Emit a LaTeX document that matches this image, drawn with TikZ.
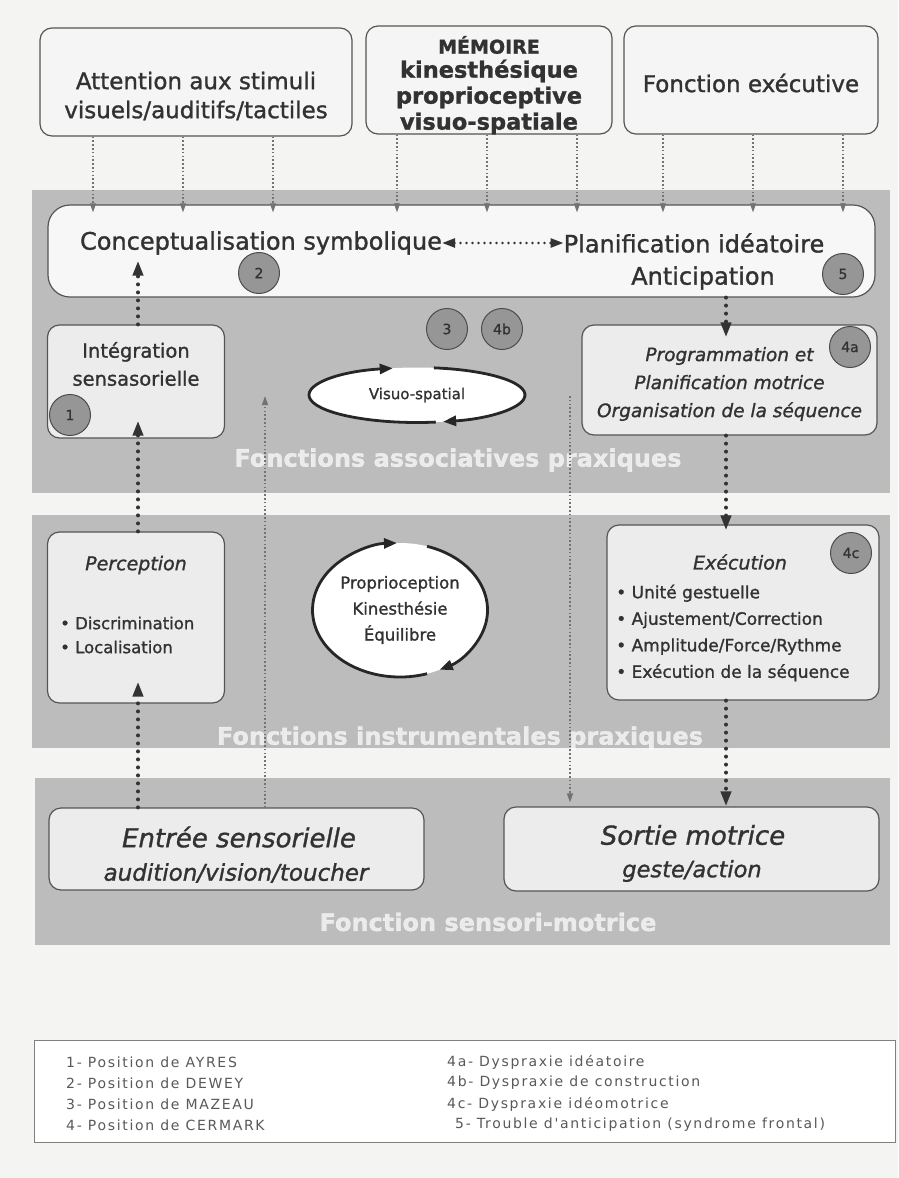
\documentclass[tikz,border=0pt]{standalone}
\usepackage{fontspec}
\setmainfont{DejaVu Sans}[FakeBold=1.2]
\newfontfamily\legfont{DejaVu Sans}[LetterSpace=12]
\usetikzlibrary{arrows.meta,shapes.geometric}
\definecolor{bandgray}{RGB}{188,188,188}
\definecolor{boxfill}{RGB}{236,236,236}
\definecolor{txt}{RGB}{50,50,50}
\definecolor{edge}{RGB}{85,85,85}
\definecolor{bg}{RGB}{244,244,242}
\definecolor{numfill}{RGB}{150,150,150}
\begin{document}
\begin{tikzpicture}[x=1pt,y=-1pt,
 every node/.style={text=txt},
 box/.style={draw=edge, line width=1.2pt, rounded corners=12pt, fill=boxfill, inner sep=0pt},
 topbox/.style={box, fill=black!4},
 lbl/.style={inner sep=0pt, align=center},
 num/.style={circle, draw=black!70, fill=numfill, line width=1pt, minimum size=41pt, inner sep=0pt, font=\fontsize{14}{16}\selectfont},
 lightarr/.style={draw=black!55, line width=1.1pt, dash pattern=on 1.6pt off 2.2pt, -{Triangle[length=9pt,width=6pt]}},
 heavyarr/.style={draw=black!80, line width=4pt, line cap=round, dash pattern=on 0pt off 8pt, -{Triangle[length=15pt,width=10pt]}},
 bidir/.style={draw=black!80, line width=2.6pt, line cap=round, dash pattern=on 0pt off 6pt, {Triangle[length=13pt,width=9pt]}-{Triangle[length=13pt,width=9pt]}},
 cyc/.style={draw=black!85, line width=2.8pt, -{Triangle[length=13pt,width=10pt]}},
 bandlbl/.style={text=white, text opacity=0.7, inner sep=0pt, font=\fontsize{24}{28}\selectfont\bfseries},
 legtxt/.style={anchor=west, inner sep=0pt, text=black!65, font=\legfont\fontsize{14}{16}\selectfont},
]
\useasboundingbox (0,0) rectangle (898,1178);
\fill[bg] (0,0) rectangle (898,1178);
% bands
\fill[bandgray] (32,190) rectangle (890,493);
\fill[bandgray] (32,515) rectangle (890,748);
\fill[bandgray] (35,778) rectangle (890,945);

% top boxes
\node[topbox, minimum width=312pt, minimum height=108pt] (att) at (196,82) {};
\node[lbl, font=\fontsize{23}{29}\selectfont] (attT) at (196,96) {Attention aux stimuli\\visuels/auditifs/tactiles};
\node[topbox, minimum width=246pt, minimum height=108pt] (mem) at (489,80) {};
\node[lbl, font=\fontsize{19}{22}\selectfont\bfseries] (memT) at (489,45) {MÉMOIRE};
\node[lbl, font=\fontsize{22.5}{26}\selectfont\bfseries] (memL) at (489,97) {kinesthésique\\proprioceptive\\visuo-spatiale};
\node[topbox, minimum width=254pt, minimum height=108pt] (exe) at (751,80) {};
\node[lbl, font=\fontsize{23}{26}\selectfont] (exeT) at (751,83) {Fonction exécutive};

% conceptualisation
\node[box, fill=black!3, rounded corners=22pt, minimum width=827pt, minimum height=92pt] (concept) at (461.5,251) {};
\node[lbl, font=\fontsize{24}{28}\selectfont] (cs) at (261,243) {Conceptualisation symbolique};
\node[lbl, font=\fontsize{24}{28}\selectfont] (pl) at (694,243) {Planification idéatoire};
\node[lbl, font=\fontsize{24}{28}\selectfont] (an) at (703,278) {Anticipation};
\draw[bidir] (cs.east) -- (pl.west);

% integration
\node[box, minimum width=177pt, minimum height=113pt] (integ) at (136,381.5) {};
\node[lbl, font=\fontsize{19.5}{28}\selectfont] (integT) at (136,364) {Intégration\\sensasorielle};

% visuo-spatial
\node[ellipse, fill=white, minimum width=216pt, minimum height=55pt, inner sep=0pt, font=\fontsize{15}{18}\selectfont] (vs) at (417,395) {Visuo-spatial};
\draw[cyc] (vs.center) ++(280:108pt and 27.5pt) arc[start angle=280, end angle=103, x radius=108pt, y radius=27.5pt];
\draw[cyc] (vs.center) ++(81:108pt and 27.5pt) arc[start angle=81, end angle=-76, x radius=108pt, y radius=27.5pt];

% programmation
\node[box, minimum width=295pt, minimum height=110pt] (prog) at (729.5,380) {};
\node[lbl, font=\fontsize{18.5}{28}\selectfont\itshape] (progT) at (729.5,384) {Programmation et\\Planification motrice\\Organisation de la séquence};

\node[bandlbl] (b1) at (458,460) {Fonctions associatives praxiques};

% perception
\node[box, minimum width=177pt, minimum height=171pt] (perc) at (136,617.5) {};
\node[lbl, font=\fontsize{19}{22}\selectfont\itshape] (percT) at (136,565) {Perception};
\node[lbl, align=left, anchor=west, font=\fontsize{16.5}{24}\selectfont] (percL) at (60,635) {• Discrimination\\• Localisation};

% proprioception
\node[ellipse, fill=white, minimum width=175pt, minimum height=134pt, inner sep=0pt, align=center, font=\fontsize{16.5}{26}\selectfont] (prop) at (400,610) {Proprioception\\Kinesthésie\\Équilibre};
\draw[cyc] (prop.center) ++(288:87.5pt and 67pt) arc[start angle=288, end angle=92, x radius=87.5pt, y radius=67pt];
\draw[cyc] (prop.center) ++(72:87.5pt and 67pt) arc[start angle=72, end angle=-63, x radius=87.5pt, y radius=67pt];

% execution
\node[box, minimum width=272pt, minimum height=175pt] (exec) at (743,612.5) {};
\node[lbl, font=\fontsize{19}{22}\selectfont\itshape] (execT) at (740,562) {Exécution};
\node[lbl, align=left, anchor=west, font=\fontsize{17}{26.5}\selectfont] (execL) at (616,633) {• Unité gestuelle\\• Ajustement/Correction\\• Amplitude/Force/Rythme\\• Exécution de la séquence};

\node[bandlbl] (b2) at (460,738) {Fonctions instrumentales praxiques};

% sensori-motrice
\node[box, minimum width=375pt, minimum height=82pt] (entree) at (236.5,849) {};
\node[lbl, font=\fontsize{26}{30}\selectfont\itshape] (entT) at (239,837) {Entrée sensorielle};
\node[lbl, font=\fontsize{23}{26}\selectfont\itshape] (entS) at (236,873) {audition/vision/toucher};
\node[box, minimum width=375pt, minimum height=84pt] (sortie) at (691.5,849) {};
\node[lbl, font=\fontsize{26}{30}\selectfont\itshape] (sorT) at (693,835) {Sortie motrice};
\node[lbl, font=\fontsize{22.5}{26}\selectfont\itshape] (sorS) at (692,871) {geste/action};

\node[bandlbl] (b3) at (488,922) {Fonction sensori-motrice};

% numbers
\node[num] (n2) at (259,273) {2};
\node[num] (n5) at (843,274) {5};
\node[num] (n3) at (447,329) {3};
\node[num] (n4b) at (502,329) {4b};
\node[num] (n1) at (70,415) {1};
\node[num] (n4a) at (850,347) {4a};
\node[num] (n4c) at (851,553) {4c};

% top arrows
\foreach \x [count=\i] in {93,183,273} {
  \coordinate (ca\i) at (\x,0);
  \draw[lightarr, shorten >=-8pt] (att.south -| ca\i) -- (concept.north -| ca\i);
}
\foreach \x [count=\i] in {397,487,577} {
  \coordinate (cb\i) at (\x,0);
  \draw[lightarr, shorten >=-8pt] (mem.south -| cb\i) -- (concept.north -| cb\i);
}
\foreach \x [count=\i] in {663,753,843} {
  \coordinate (cc\i) at (\x,0);
  \draw[lightarr, shorten >=-8pt] (exe.south -| cc\i) -- (concept.north -| cc\i);
}

% heavy left chain
\coordinate (xL) at (138,0);
\draw[heavyarr, shorten >=-37pt] (integ.north -| xL) -- (concept.south -| xL);
\draw[heavyarr, shorten >=-18pt] (perc.north -| xL) -- (integ.south -| xL);
\draw[heavyarr, shorten >=-22pt] (entree.north -| xL) -- (perc.south -| xL);

% light long arrows
\coordinate (lt1) at (265,396);
\coordinate (lt2) at (570,396);
\draw[lightarr] (entree.north -| lt1) -- (lt1);
\draw[lightarr, shorten >=4pt] (lt2) -- (sortie.north -| lt2);

% heavy right chain
\coordinate (xR) at (726,0);
\draw[heavyarr, shorten >=-13pt] (concept.south -| xR) -- (prog.north -| xR);
\draw[heavyarr, shorten >=-6pt] (prog.south -| xR) -- (exec.north -| xR);
\draw[heavyarr] (exec.south -| xR) -- (sortie.north -| xR);

% legend
\node[draw=black!50, fill=white, line width=1pt, minimum width=861pt, minimum height=102pt, inner sep=0pt] (legend) at (465,1091) {};
\node[legtxt] (l1) at (66,1062) {1- Position de AYRES};
\node[legtxt] (l2) at (66,1083) {2- Position de DEWEY};
\node[legtxt] (l3) at (66,1104) {3- Position de MAZEAU};
\node[legtxt] (l4) at (66,1125) {4- Position de CERMARK};
\node[legtxt] (l5) at (447,1062) {4a- Dyspraxie idéatoire};
\node[legtxt] (l6) at (447,1083) {4b- Dyspraxie de construction};
\node[legtxt] (l7) at (447,1104) {4c- Dyspraxie idéomotrice};
\node[legtxt] (l8) at (455,1125) {5- Trouble d'anticipation (syndrome frontal)};
\end{tikzpicture}
\end{document}
